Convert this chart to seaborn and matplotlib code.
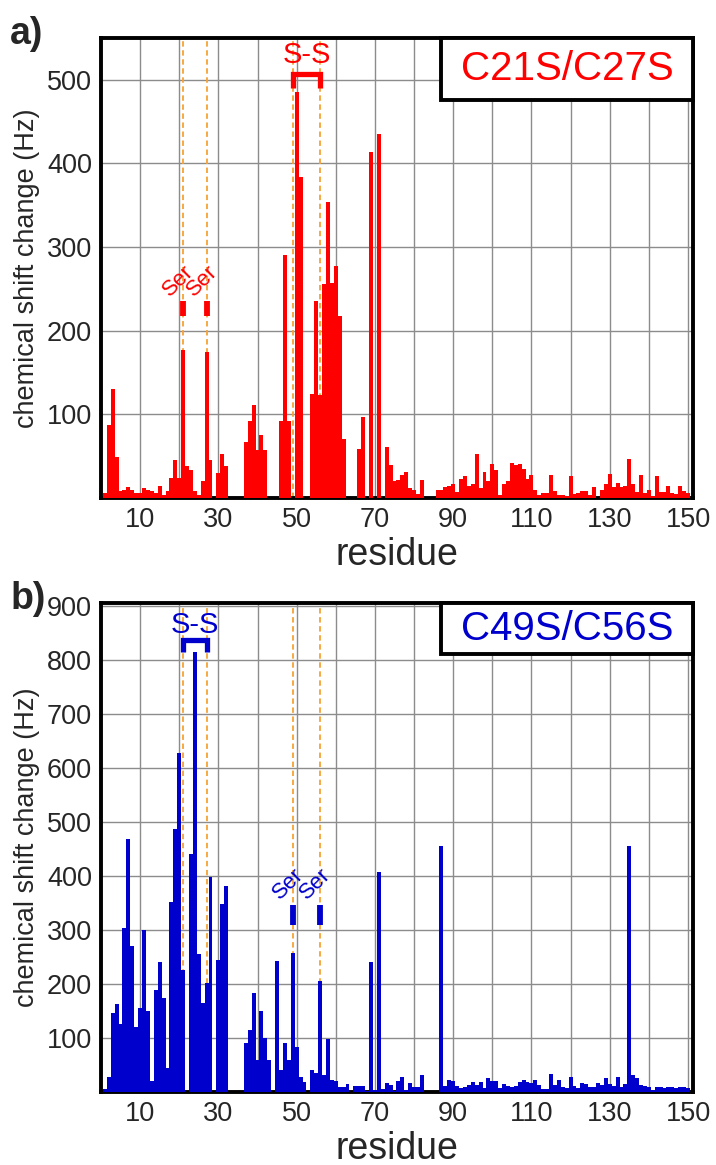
import numpy as np
import matplotlib
matplotlib.use("Agg")
import matplotlib.pyplot as plt
from matplotlib.patches import Rectangle
import seaborn as sns

# residue numbers
residues = list(range(1, 151))

# chemical shift change (Hz), mutant C21S/C27S
shift_a = [6, 87, 130, 49, 9, 10, 13, 10, 6, 6,
           12, 10, 8, 6, 14, 4, 8, 24, 45, 24,
           177, 38, 34, 9, 4, 20, 174, 46, 0, 30,
           53, 38, 0, 0, 0, 0, 67, 92, 111, 57,
           75, 57, 0, 0, 0, 92, 291, 92, 0, 485,
           384, 0, 0, 124, 236, 123, 256, 354, 257, 277,
           218, 70, 0, 0, 0, 59, 97, 0, 413, 0,
           435, 0, 61, 39, 20, 21, 27, 31, 12, 10,
           5, 22, 0, 0, 0, 10, 10, 13, 14, 17,
           7, 23, 26, 14, 17, 53, 12, 31, 20, 41,
           33, 4, 17, 20, 42, 39, 41, 35, 23, 28,
           10, 4, 6, 6, 27, 8, 4, 4, 2, 26,
           5, 6, 8, 8, 4, 13, 0, 10, 17, 29,
           13, 18, 13, 14, 47, 17, 7, 27, 6, 10,
           2, 26, 7, 7, 14, 6, 5, 14, 8, 6]

# chemical shift change (Hz), mutant C49S/C56S
shift_b = [5, 28, 146, 163, 126, 303, 468, 270, 121, 155,
           300, 150, 21, 188, 240, 173, 44, 351, 486, 627,
           226, 0, 441, 815, 256, 164, 201, 398, 0, 244,
           348, 382, 0, 0, 0, 0, 90, 115, 184, 60,
           150, 100, 60, 0, 243, 40, 90, 60, 258, 84,
           28, 19, 0, 41, 35, 206, 31, 98, 23, 21,
           9, 9, 14, 0, 11, 11, 11, 2, 240, 4,
           408, 5, 16, 12, 2, 21, 28, 4, 16, 10,
           10, 31, 0, 0, 0, 0, 455, 11, 22, 21,
           11, 7, 10, 12, 19, 12, 19, 8, 25, 20,
           20, 7, 15, 11, 9, 11, 19, 23, 19, 16,
           23, 12, 6, 6, 33, 12, 22, 9, 7, 27,
           11, 7, 16, 15, 10, 10, 16, 12, 25, 15,
           11, 28, 9, 15, 455, 31, 25, 12, 11, 10,
           4, 9, 9, 8, 9, 9, 8, 9, 9, 8]

x_ticks = list(range(10, 151, 10))
x_labels = [str(t) if t % 20 == 10 else "" for t in x_ticks]

sns.set_style("white")
plt.rcParams["font.family"] = ["Liberation Sans", "DejaVu Sans"]

RED = "#ff0000"
BLUE = "#0000cc"
ORANGE = "#f7a233"

fig = plt.figure(figsize=(7.16, 11.65), dpi=100)
ax_a = fig.add_axes([0.141, 0.5725, 0.827, 0.395])
ax_b = fig.add_axes([0.141, 0.0627, 0.827, 0.4197])


def style_axes(ax, ymax, yticks):
    ax.set_xlim(0, 151.3)
    ax.set_ylim(0, ymax)
    ax.set_xticks(x_ticks)
    ax.set_xticklabels(x_labels)
    ax.set_yticks(yticks)
    ax.set_yticklabels([str(t) for t in yticks])
    ax.grid(True, color="#8c8c8c", linewidth=1.0, zorder=0)
    ax.set_axisbelow(True)
    for sp in ax.spines.values():
        sp.set_visible(True)
        sp.set_linewidth(2.8)
        sp.set_color("black")
    ax.tick_params(axis="both", direction="out", length=4.5, width=2.8,
                   labelsize=19.5, color="black", pad=2)
    ax.set_xlabel("residue", fontsize=27, labelpad=3)
    ax.set_ylabel("chemical shift change (Hz)", fontsize=19.5, labelpad=5)


def draw_panel(ax, vals, color, ymax, yticks, ss_pair, ser_pair, ss_y, ser_y, title, box_h):
    style_axes(ax, ymax, yticks)
    for r in list(ss_pair) + list(ser_pair):
        ax.axvline(r, color=ORANGE, linestyle=(0, (3, 2)), linewidth=1.3, zorder=1)
    sns.barplot(x=residues, y=vals, native_scale=True, width=1.0, color=color,
                saturation=1, errorbar=None, linewidth=0, ax=ax, zorder=3)
    style_axes(ax, ymax, yticks)

    # disulfide bracket
    lo, top, txt = ss_y
    x1, x2 = ss_pair
    ax.plot([x1, x1, x2, x2], [lo, top, top, lo], color=color, linewidth=3.8,
            solid_capstyle="butt", solid_joinstyle="miter", zorder=5)
    ax.text((x1 + x2) / 2, txt, "S-S", color=color, fontsize=21,
            ha="center", va="center", zorder=5)

    # serine marks
    m0, m1, t = ser_y
    for r in ser_pair:
        ax.plot([r, r], [m0, m1], color=color, linewidth=4.2,
                solid_capstyle="butt", zorder=5)
        ax.text(r - 1.2, t, "Ser", color=color, fontsize=16, rotation=45,
                ha="center", va="center", zorder=5)

    # label box in the upper right corner
    ax.add_patch(Rectangle((0.575, 1 - box_h), 0.425, box_h, transform=ax.transAxes,
                           facecolor="white", edgecolor="black", linewidth=2.8,
                           zorder=6, clip_on=False))
    ax.text(0.7875, 1 - box_h / 2, title, transform=ax.transAxes, color=color,
            fontsize=29, ha="center", va="center", zorder=7)


draw_panel(ax_a, shift_a, RED, 550, [100, 200, 300, 400, 500],
           (49, 56), (21, 27), (490, 507, 530), (217, 236, 260), "C21S/C27S", 0.135)
draw_panel(ax_b, shift_b, BLUE, 905, [100, 200, 300, 400, 500, 600, 700, 800, 900],
           (21, 27), (49, 56), (815, 836, 864), (309, 346, 385), "C49S/C56S", 0.105)

fig.text(0.014, 0.971, "a)", fontsize=27, fontweight="bold", ha="left", va="center")
fig.text(0.014, 0.486, "b)", fontsize=27, fontweight="bold", ha="left", va="center")

fig.savefig("out.png", dpi=100)
